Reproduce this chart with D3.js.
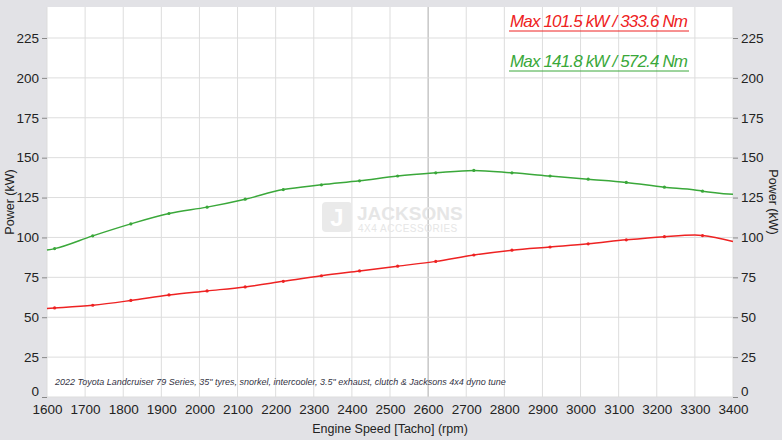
<!DOCTYPE html>
<html><head><meta charset="utf-8">
<script src="https://cdn.jsdelivr.net/npm/d3@7"></script>
<style>
body{margin:0;background:#e2e2e6;font-family:"Liberation Sans",Arial,sans-serif;}
</style></head>
<body><svg width="782" height="440"></svg>
<script>
const rpm = [1600, 1620, 1720, 1820, 1920, 2020, 2120, 2220, 2320, 2420, 2520, 2620, 2720, 2820, 2920, 3020, 3120, 3220, 3300, 3320, 3400];
const greenKw = [92.1, 93, 101, 108.5, 115, 119, 124, 130, 133, 135.5, 138.5, 140.5, 142, 140.5, 138.5, 136.5, 134.5, 131.5, 129.8, 129, 127];
const redKw = [55.5, 55.8, 57.5, 60.5, 64, 66.5, 69, 72.5, 76, 79, 82, 85, 89, 92, 94, 96, 98.5, 100.5, 101.5, 101.2, 97.5];
const xTicks = d3.range(1600, 3401, 100);
const yTicks = d3.range(0, 226, 25);
const legend = [
  {text: "Max 101.5 kW  / 333.6 Nm", color: "#ee2222"},
  {text: "Max 141.8 kW  / 572.4 Nm", color: "#3aa83a"}
];
const note = "2022 Toyota Landcruiser 79 Series, 35\" tyres, snorkel, intercooler, 3.5\" exhaust, clutch & Jacksons 4x4 dyno tune";

const svg = d3.select('svg');
const L = 47, R = 733, T = 7, B = 397;
const x = d3.scaleLinear().domain([1600, 3400]).range([L, R]);
const y = d3.scaleLinear().domain([0, 225]).range([B, 38]);

svg.append('rect').attr('x', L).attr('y', T).attr('width', R - L).attr('height', B - T).attr('fill', '#fff');

const g = svg.append('g');
g.selectAll('.vg').data(xTicks).enter().append('line')
  .attr('x1', d => x(d)).attr('x2', d => x(d)).attr('y1', T).attr('y2', B)
  .attr('stroke', d => d === 2600 ? '#aaa' : '#ddd').attr('stroke-width', 1);
g.selectAll('.hg').data(yTicks).enter().append('line')
  .attr('x1', L).attr('x2', R).attr('y1', d => y(d)).attr('y2', d => y(d))
  .attr('stroke', '#ddd');

// watermark
svg.append('rect').attr('x', 322).attr('y', 202).attr('width', 30).attr('height', 30).attr('rx', 4).attr('fill', '#eaeaea');
svg.append('text').attr('x', 337).attr('y', 226).attr('text-anchor', 'middle').attr('font-size', 24).attr('font-weight', 'bold').attr('fill', '#fff').text('J');
svg.append('text').attr('x', 357).attr('y', 220).attr('font-size', 19).attr('font-weight', 'bold').attr('fill', '#e6e6e6').text('JACKSONS');
svg.append('text').attr('x', 358).attr('y', 232).attr('font-size', 10).attr('fill', '#e6e6e6').attr('letter-spacing', 0.5).text('4X4 ACCESSORIES');

const axX = svg.append('g').attr('transform', `translate(0,${B})`)
  .call(d3.axisBottom(x).tickValues(xTicks).tickSize(0).tickPadding(7).tickFormat(d3.format('d')));
const axL = svg.append('g').attr('transform', `translate(${L},0)`)
  .call(d3.axisLeft(y).tickValues(yTicks).tickSize(5).tickPadding(3));
const axR = svg.append('g').attr('transform', `translate(${R},0)`)
  .call(d3.axisRight(y).tickValues(yTicks).tickSize(5).tickPadding(3));
[axX, axL, axR].forEach(a => {
  a.select('.domain').remove();
  a.selectAll('text').attr('font-size', 13.5).attr('fill', '#222').attr('font-family', 'Liberation Sans, Arial');
  a.selectAll('line').attr('stroke', '#888');
});
axL.selectAll('.tick').filter(d => d === 0).select('text').attr('dy', '-0.1em');
axR.selectAll('.tick').filter(d => d === 0).select('text').attr('dy', '-0.1em');

svg.append('text').attr('x', 390).attr('y', 433).attr('text-anchor', 'middle').attr('font-size', 12.5).attr('fill', '#222').text('Engine Speed [Tacho] (rpm)');
svg.append('text').attr('transform', 'translate(14,202) rotate(-90)').attr('text-anchor', 'middle').attr('font-size', 12.5).attr('fill', '#222').text('Power (kW)');
svg.append('text').attr('transform', 'translate(769,202) rotate(90)').attr('text-anchor', 'middle').attr('font-size', 12.5).attr('fill', '#222').text('Power (kW)');

const series = [{v: greenKw, c: '#3aa83a'}, {v: redKw, c: '#ee2222'}];
const line = d3.line().x((d, i) => x(rpm[i])).y(d => y(d)).curve(d3.curveMonotoneX);
series.forEach(s => {
  svg.append('path').datum(s.v).attr('fill', 'none').attr('stroke', s.c).attr('stroke-width', 1.5).attr('d', line);
  svg.selectAll(null).data(s.v.map((d, i) => [rpm[i], d]).filter(p => p[0] % 100 === 20))
    .enter().append('circle').attr('cx', p => x(p[0])).attr('cy', p => y(p[1])).attr('r', 1.6).attr('fill', s.c);
});

legend.forEach((d, i) => {
  const yy = 27 + i * 40;
  svg.append('text').attr('x', 510).attr('y', yy).attr('font-size', 17).attr('font-style', 'italic')
    .attr('fill', d.color).attr('textLength', 178).text(d.text);
  svg.append('line').attr('x1', 509).attr('x2', 689).attr('y1', yy + 4).attr('y2', yy + 4).attr('stroke', d.color);
});

svg.append('text').attr('x', 55).attr('y', 385).attr('font-size', 9).attr('font-style', 'italic').attr('fill', '#334').text(note);
</script></body></html>
